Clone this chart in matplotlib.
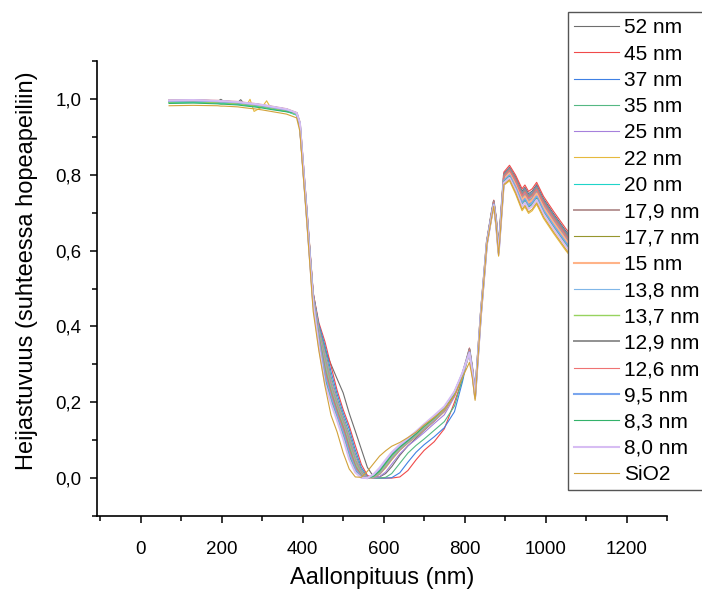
import matplotlib
matplotlib.use("Agg")
import matplotlib.pyplot as plt
from matplotlib.ticker import MultipleLocator, FuncFormatter

plt.rcParams["font.family"] = ["Liberation Sans", "DejaVu Sans"]

# Wavelength grid (nm) shared by all reflectance spectra
wavelength = [70, 130, 190, 198, 206, 240, 247, 254, 262, 270, 280, 300, 311, 322, 360, 385,
              393, 410, 426,
              440, 455, 470, 485, 500, 515, 530, 545, 560, 575, 590, 605, 620, 640, 660, 680,
              700, 725, 750, 775, 795,
              812, 819, 826, 840, 855, 866, 872, 878, 884, 897, 911, 926, 942, 949, 958, 967,
              978, 995, 1020, 1050, 1080]

# Reflectance relative to a silver mirror, one list per coating thickness
r_52 = [.995, .996, .994, .999, .993, .991, .998, .989, .988, .987, .986, .983, .981, .979, .972, .962,
        .925, .710, .490,
        .400, .340, .300, .262, .225, .171, .124, .076, .028, .004, .003, .012, .030, .060, .085, .105,
        .126, .150, .176, .218, .270,
        .342, .292, .225, .434, .624, .697, .732, .684, .611, .803, .820, .794, .757, .767, .750, .757,
        .774, .737, .697, .652, .612]
r_45 = [.996, .997, .995, .994, .994, .992, .991, .990, .989, .988, .987, .984, .982, .980, .973, .963,
        .930, .712, .488,
        .410, .360, .296, .232, .181, .138, .086, .036, .007, .001, .000, .000, .000, .003, .020, .048,
        .073, .096, .130, .200, .262,
        .343, .293, .226, .436, .626, .698, .733, .686, .614, .807, .825, .799, .763, .773, .756, .763,
        .780, .743, .703, .658, .618]
r_37 = [.995, .996, .994, .993, .993, .991, .990, .989, .988, .987, .986, .983, .981, .979, .972, .962,
        .932, .708, .485,
        .405, .350, .281, .222, .172, .129, .074, .028, .004, .000, .000, .000, .001, .014, .042, .068,
        .088, .109, .133, .175, .255,
        .340, .290, .223, .434, .624, .695, .730, .682, .609, .801, .818, .790, .753, .763, .746, .753,
        .770, .733, .693, .648, .608]
r_35 = [.991, .992, .990, .989, .989, .987, .986, .985, .984, .983, .982, .979, .977, .975, .968, .958,
        .928, .705, .482,
        .400, .340, .268, .211, .163, .118, .064, .022, .002, .000, .000, .002, .012, .039, .066, .086,
        .103, .126, .149, .190, .262,
        .339, .289, .222, .432, .622, .694, .729, .680, .606, .797, .813, .785, .747, .757, .740, .747,
        .764, .727, .687, .642, .602]
r_25 = [.996, .997, .995, .994, .994, .992, .991, .990, .989, .988, .987, .984, .982, .980, .973, .963,
        .936, .706, .480,
        .396, .330, .260, .204, .157, .111, .057, .018, .002, .000, .004, .016, .037, .064, .085, .102,
        .120, .144, .167, .214, .268,
        .337, .287, .220, .432, .622, .692, .727, .678, .604, .795, .811, .782, .743, .753, .736, .743,
        .760, .723, .683, .638, .598]
r_22 = [.991, .992, .990, .989, .989, .987, .986, .985, .984, .999, .967, .979, .995, .975, .968, .958,
        .925, .698, .476,
        .390, .322, .251, .197, .152, .104, .050, .015, .001, .001, .010, .027, .048, .073, .092, .109,
        .128, .151, .175, .218, .270,
        .326, .276, .209, .424, .614, .681, .716, .663, .585, .772, .784, .749, .705, .715, .698, .705,
        .722, .685, .645, .600, .560]
r_20 = [.990, .991, .989, .988, .988, .986, .985, .984, .983, .982, .981, .978, .976, .974, .967, .957,
        .930, .703, .478,
        .388, .317, .247, .193, .149, .101, .047, .013, .001, .003, .013, .033, .054, .077, .095, .112,
        .132, .154, .179, .221, .272,
        .336, .286, .219, .431, .621, .691, .726, .677, .602, .792, .808, .778, .739, .749, .732, .739,
        .756, .719, .679, .634, .594]
r_17_9 = [.995, .996, .994, .993, .993, .991, .990, .989, .988, .987, .986, .983, .981, .979, .972, .962,
          .934, .704, .477,
          .386, .312, .243, .190, .146, .097, .044, .011, .001, .002, .011, .030, .051, .075, .094, .111,
          .130, .152, .177, .220, .270,
          .336, .286, .219, .430, .620, .691, .726, .676, .601, .791, .806, .777, .737, .747, .730, .737,
          .754, .717, .677, .632, .592]
r_17_7 = [.993, .994, .992, .991, .991, .989, .988, .987, .986, .985, .984, .981, .979, .977, .970, .960,
          .930, .695, .466,
          .361, .272, .215, .166, .122, .067, .024, .003, .000, .005, .018, .039, .059, .081, .098, .116,
          .136, .158, .184, .223, .273,
          .333, .283, .216, .429, .619, .688, .723, .673, .597, .786, .801, .770, .729, .739, .722, .729,
          .746, .709, .669, .624, .584]
r_15 = [.996, .997, .995, .994, .994, .992, .991, .990, .989, .988, .987, .984, .982, .980, .973, .963,
        .937, .702, .472,
        .374, .290, .228, .178, .135, .082, .033, .006, .000, .005, .019, .040, .061, .082, .099, .117,
        .137, .159, .184, .224, .274,
        .334, .284, .217, .430, .620, .689, .724, .674, .599, .789, .804, .773, .733, .743, .726, .733,
        .750, .713, .673, .628, .588]
r_13_8 = [.994, .995, .993, .992, .992, .990, .989, .988, .987, .986, .985, .982, .980, .978, .971, .961,
          .934, .701, .472,
          .381, .302, .236, .184, .140, .089, .038, .009, .001, .003, .014, .034, .055, .078, .096, .113,
          .133, .155, .182, .222, .272,
          .333, .283, .216, .428, .618, .688, .723, .672, .596, .785, .799, .768, .727, .737, .720, .727,
          .744, .707, .667, .622, .582]
r_13_7 = [.992, .993, .991, .990, .990, .988, .987, .986, .985, .984, .983, .980, .978, .976, .969, .959,
          .932, .700, .471,
          .377, .296, .232, .181, .138, .086, .036, .007, .000, .004, .016, .037, .058, .080, .098, .115,
          .135, .157, .183, .223, .273,
          .331, .281, .214, .428, .618, .686, .721, .670, .594, .783, .797, .765, .723, .733, .716, .723,
          .740, .703, .663, .618, .578]
r_12_9 = [.995, .996, .994, .993, .993, .991, .990, .989, .988, .987, .986, .983, .981, .979, .972, .962,
          .935, .700, .470,
          .370, .285, .225, .175, .132, .078, .030, .005, .000, .006, .020, .042, .062, .083, .100, .118,
          .138, .160, .185, .225, .275,
          .340, .290, .223, .433, .623, .695, .730, .681, .608, .799, .816, .788, .750, .760, .743, .750,
          .767, .730, .690, .645, .605]
r_12_6 = [.996, .997, .995, .994, .994, .992, .991, .990, .989, .988, .987, .984, .982, .980, .973, .963,
          .936, .699, .468,
          .367, .281, .222, .172, .129, .074, .028, .004, .000, .008, .024, .046, .066, .086, .103, .121,
          .140, .163, .187, .226, .276,
          .338, .288, .221, .432, .622, .693, .728, .679, .605, .796, .812, .784, .745, .755, .738, .745,
          .762, .725, .685, .640, .600]
r_9_5 = [.995, .996, .994, .993, .993, .991, .990, .989, .988, .987, .986, .983, .981, .979, .972, .962,
         .936, .697, .466,
         .359, .268, .211, .163, .118, .064, .022, .002, .000, .008, .023, .045, .065, .085, .102, .120,
         .140, .162, .186, .226, .276,
         .332, .282, .215, .428, .618, .687, .722, .671, .595, .784, .798, .766, .725, .735, .718, .725,
         .742, .705, .665, .620, .580]
r_8_3 = [.988, .989, .987, .986, .986, .984, .983, .982, .981, .980, .979, .976, .974, .972, .966, .963,
         .935, .694, .464,
         .353, .260, .204, .157, .111, .057, .018, .002, .000, .005, .019, .040, .061, .082, .099, .117,
         .137, .159, .184, .224, .274,
         .331, .281, .214, .427, .617, .686, .721, .669, .593, .782, .795, .763, .721, .731, .714, .721,
         .738, .701, .661, .616, .576]
r_8_0 = [.996, .997, .995, .994, .994, .992, .991, .990, .989, .988, .987, .984, .982, .980, .973, .963,
         .937, .692, .462,
         .348, .251, .197, .152, .104, .050, .015, .001, .000, .010, .027, .048, .068, .088, .105, .123,
         .142, .165, .189, .228, .278,
         .330, .280, .213, .426, .616, .685, .720, .668, .591, .779, .792, .760, .717, .727, .710, .717,
         .734, .697, .657, .612, .572]
r_sio2 = [.982, .983, .982, .981, .981, .979, .978, .977, .976, .975, .974, .971, .969, .967, .960, .950,
          .915, .680, .440,
          .336, .243, .166, .122, .067, .024, .003, .002, .018, .038, .058, .072, .084, .094, .107, .121,
          .140, .160, .182, .218, .266,
          .305, .265, .205, .425, .615, .682, .717, .665, .587, .774, .787, .753, .709, .719, .702, .709,
          .726, .689, .649, .604, .564]

labels = ["52 nm", "45 nm", "37 nm", "35 nm", "25 nm", "22 nm", "20 nm", "17,9 nm", "17,7 nm",
          "15 nm", "13,8 nm", "13,7 nm", "12,9 nm", "12,6 nm", "9,5 nm", "8,3 nm", "8,0 nm", "SiO2"]
spectra = [r_52, r_45, r_37, r_35, r_25, r_22, r_20, r_17_9, r_17_7,
           r_15, r_13_8, r_13_7, r_12_9, r_12_6, r_9_5, r_8_3, r_8_0, r_sio2]
colors = ["#6e6e6e", "#f04a4a", "#3f80e4", "#55b883", "#a680dc", "#e6b93e", "#1fd4c9", "#b89696",
          "#96962e", "#ffb388", "#7fb6e8", "#97d35f", "#909090", "#ef7373", "#7aa6ee", "#33b26a",
          "#d7bdf3", "#d2a23a"]
widths = [0.8, 0.8, 0.8, 0.8, 0.8, 0.8, 0.8, 1.4, 0.8,
          1.5, 0.8, 1.0, 1.4, 0.8, 1.5, 0.8, 1.5, 0.8]

fig = plt.figure(figsize=(7.02, 5.91), dpi=100)
ax = fig.add_axes([97 / 702, 1 - 516 / 591, 570 / 702, 455 / 591])

for lab, vals, col, lw in zip(labels, spectra, colors, widths):
    ax.plot(wavelength, vals, color=col, lw=lw, label=lab)

ax.set_xlim(-108, 1300)
ax.set_ylim(-0.1, 1.1)
ax.xaxis.set_major_locator(MultipleLocator(200))
ax.xaxis.set_minor_locator(MultipleLocator(100))
ax.yaxis.set_major_locator(MultipleLocator(0.2))
ax.yaxis.set_minor_locator(MultipleLocator(0.1))
ax.yaxis.set_major_formatter(FuncFormatter(lambda v, p: f"{v:.1f}".replace(".", ",")))
ax.xaxis.set_major_formatter(FuncFormatter(lambda v, p: f"{v:.0f}"))

for side in ("top", "right"):
    ax.spines[side].set_visible(False)
for side in ("left", "bottom"):
    ax.spines[side].set_linewidth(1.2)

ax.tick_params(which="major", direction="out", length=5, width=1.1, labelsize=13.5)
ax.tick_params(which="minor", direction="out", length=3.5, width=1.1)
ax.tick_params(axis="x", which="major", pad=13)
ax.tick_params(axis="y", which="major", pad=6)

ax.set_xlabel("Aallonpituus (nm)", fontsize=17)
ax.set_ylabel("Heijastuvuus (suhteessa hopeapeiliin)", fontsize=17)
ax.xaxis.set_label_coords(0.5, -0.113)
ax.yaxis.set_label_coords(-0.104, 0.54)

leg = ax.legend(loc="upper left", bbox_to_anchor=(568 / 702, 1 - 12 / 591),
                bbox_transform=fig.transFigure, fontsize=15, frameon=True, fancybox=False,
                edgecolor="#555555", framealpha=1, borderpad=0.3, labelspacing=0.35,
                handlelength=2.15, handletextpad=0.25, borderaxespad=0)
leg.get_frame().set_linewidth(1.0)

fig.savefig("out.png", dpi=100)
